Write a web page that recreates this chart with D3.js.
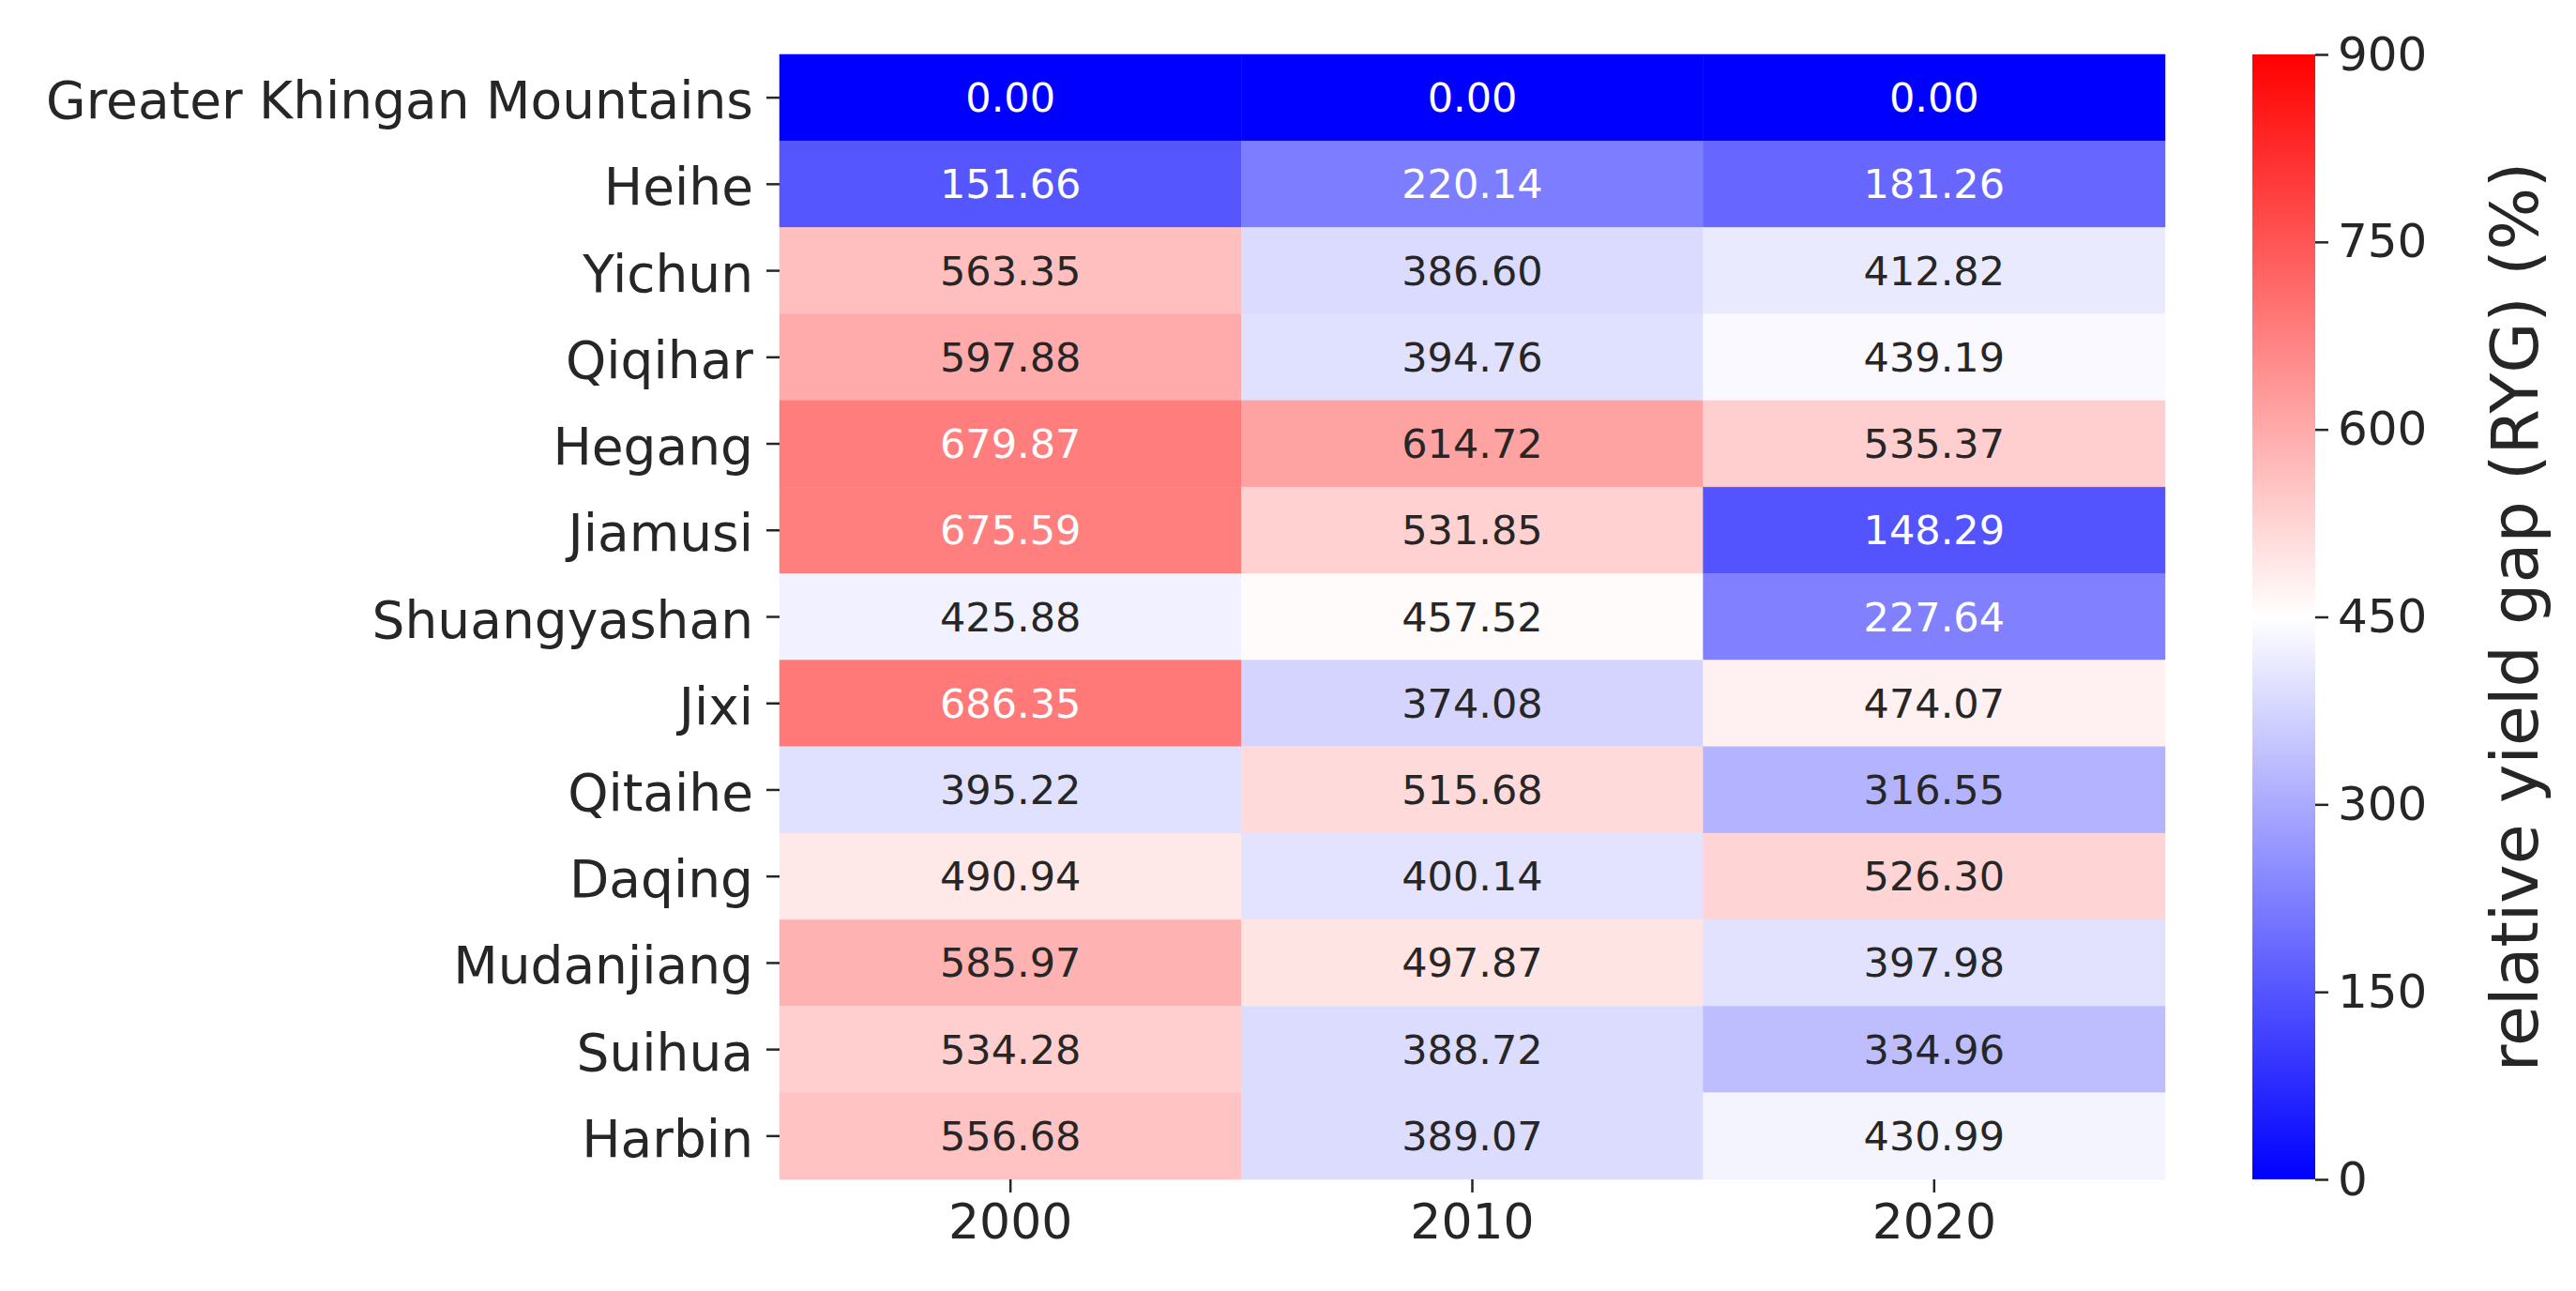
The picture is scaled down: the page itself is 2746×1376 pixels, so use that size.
<!DOCTYPE html>
<html><head><meta charset="utf-8">
<script src="https://cdn.jsdelivr.net/npm/d3@7"></script>
<style>body{margin:0;background:#fff}svg text{font-family:"DejaVu Sans",sans-serif}</style>
</head><body>
<svg id="chart" width="2746" height="1376"></svg>
<script>
const cities = ["Greater Khingan Mountains","Heihe","Yichun","Qiqihar","Hegang","Jiamusi","Shuangyashan","Jixi","Qitaihe","Daqing","Mudanjiang","Suihua","Harbin"];
const years = ["2000","2010","2020"];
const ryg2000 = [0.00,151.66,563.35,597.88,679.87,675.59,425.88,686.35,395.22,490.94,585.97,534.28,556.68];
const ryg2010 = [0.00,220.14,386.60,394.76,614.72,531.85,457.52,374.08,515.68,400.14,497.87,388.72,389.07];
const ryg2020 = [0.00,181.26,412.82,439.19,535.37,148.29,227.64,474.07,316.55,526.30,397.98,334.96,430.99];
const cbTicks = [0,150,300,450,600,750,900];

const series = [ryg2000, ryg2010, ryg2020];
const cells = [];
cities.forEach((c, i) => years.forEach((y, j) => cells.push({c, y, v: series[j][i]})));

const svg = d3.select("#chart");
const mLeft = 831, mRight = 2308, mTop = 58, mBottom = 1257;
const x = d3.scaleBand().domain(years).range([mLeft, mRight]);
const y = d3.scaleBand().domain(cities).range([mTop, mBottom]);
const color = d3.scaleLinear().domain([0, 450, 900]).range(["#0000ff", "#ffffff", "#ff0000"]);

function lum(c) {
  const r = d3.rgb(c);
  const f = v => { v /= 255; return v <= 0.03928 ? v / 12.92 : Math.pow((v + 0.055) / 1.055, 2.4); };
  return 0.2126 * f(r.r) + 0.7152 * f(r.g) + 0.0722 * f(r.b);
}

svg.append("g").selectAll("rect").data(cells).enter().append("rect")
  .attr("x", d => x(d.y)).attr("y", d => y(d.c))
  .attr("width", x.bandwidth()).attr("height", y.bandwidth())
  .attr("fill", d => color(d.v)).attr("stroke", d => color(d.v)).attr("stroke-width", 0.5);

svg.append("g").selectAll("text").data(cells).enter().append("text")
  .attr("x", d => x(d.y) + x.bandwidth() / 2).attr("y", d => y(d.c) + y.bandwidth() / 2)
  .attr("text-anchor", "middle").attr("dominant-baseline", "central")
  .attr("font-size", 43)
  .attr("fill", d => lum(color(d.v)) > 0.408 ? "#262626" : "#ffffff")
  .text(d => d.v.toFixed(2));

const yAxis = svg.append("g").attr("transform", `translate(${mLeft},0)`)
  .call(d3.axisLeft(y).tickSize(14).tickPadding(14));
const xAxis = svg.append("g").attr("transform", `translate(0,${mBottom})`)
  .call(d3.axisBottom(x).tickSize(14).tickPadding(12));
[yAxis, xAxis].forEach(a => {
  a.select(".domain").remove();
  a.selectAll("line").attr("stroke", "#262626").attr("stroke-width", 2.5);
  a.selectAll("text").attr("font-size", 52).attr("fill", "#262626");
});
yAxis.selectAll("text").attr("font-size", 55).attr("dy", "0.4em");

// colorbar
const cbx = 2401, cbw = 67;
const cy = d3.scaleLinear().domain([0, 900]).range([mBottom, mTop]);
const grad = svg.append("defs").append("linearGradient").attr("id", "cb")
  .attr("x1", 0).attr("y1", 1).attr("x2", 0).attr("y2", 0);
[0, 450, 900].forEach(v => grad.append("stop").attr("offset", v / 900).attr("stop-color", color(v)));
svg.append("rect").attr("x", cbx).attr("y", mTop).attr("width", cbw).attr("height", mBottom - mTop).attr("fill", "url(#cb)");
const cbAxis = svg.append("g").attr("transform", `translate(${cbx + cbw},0)`)
  .call(d3.axisRight(cy).tickValues(cbTicks).tickSize(14).tickPadding(10));
cbAxis.select(".domain").remove();
cbAxis.selectAll("line").attr("stroke", "#262626").attr("stroke-width", 2.5);
cbAxis.selectAll("text").attr("font-size", 50).attr("fill", "#262626");
svg.append("text").attr("transform", `translate(2705,${(mTop + mBottom) / 2}) rotate(-90)`)
  .attr("text-anchor", "middle").attr("font-size", 70).attr("fill", "#262626")
  .text("relative yield gap (RYG) (%)");
</script>
</body></html>
